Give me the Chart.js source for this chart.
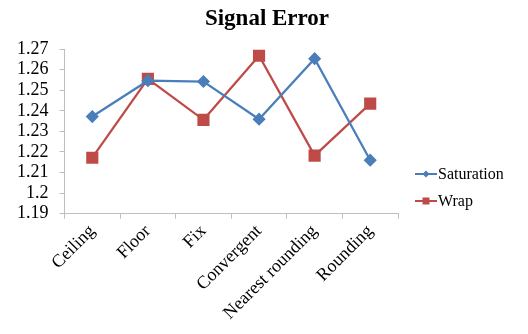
<!DOCTYPE html>
<html>
<head>
<meta charset="utf-8">
<script src="https://cdn.jsdelivr.net/npm/chart.js@4"></script>
<style>
  html, body { margin: 0; padding: 0; background: #fff; }
  #wrap { width: 528px; height: 334px; }
</style>
</head>
<body>
<div id="wrap"><canvas id="c" width="528" height="334"></canvas></div>
<script>
const categories = ["Ceiling", "Floor", "Fix", "Convergent", "Nearest rounding", "Rounding"];
const saturation = [1.2372, 1.2546, 1.2542, 1.2359, 1.2653, 1.2160];
const wrap = [1.2172, 1.2555, 1.2356, 1.2667, 1.2182, 1.2435];
const yTicks = [1.19, 1.2, 1.21, 1.22, 1.23, 1.24, 1.25, 1.26, 1.27];
const chartTitle = 'Signal Error';

const FONT = "'Liberation Serif', 'Times New Roman', serif";
const BLUE = "#4A7EBB";
const RED = "#BE4B48";

// Title centred over the whole canvas, legend drawn at the right beside the plot
const decorations = {
  id: 'decorations',
  afterDraw(chart) {
    const ctx = chart.ctx;
    ctx.save();
    ctx.fillStyle = '#000';
    ctx.font = "bold 23px " + FONT;
    ctx.textAlign = 'center';
    ctx.textBaseline = 'alphabetic';
    ctx.fillText(chartTitle, 267, 25);

    const x0 = 415;
    const rows = [174, 201];
    chart.data.datasets.forEach((ds, i) => {
      const y = rows[i];
      ctx.strokeStyle = ds.borderColor;
      ctx.lineWidth = 2;
      ctx.beginPath();
      ctx.moveTo(x0, y);
      ctx.lineTo(x0 + 22, y);
      ctx.stroke();
      ctx.fillStyle = ds.backgroundColor;
      if (ds.pointStyle === 'rect') {
        ctx.fillRect(x0 + 11 - 3.5, y - 3.5, 7, 7);
      } else {
        ctx.beginPath();
        ctx.moveTo(x0 + 11, y - 3.5);
        ctx.lineTo(x0 + 14.5, y);
        ctx.lineTo(x0 + 11, y + 3.5);
        ctx.lineTo(x0 + 7.5, y);
        ctx.closePath();
        ctx.fill();
      }
      ctx.fillStyle = '#000';
      ctx.font = "16px " + FONT;
      ctx.textBaseline = 'middle';
      ctx.textAlign = 'left';
      ctx.fillText(ds.label, x0 + 23, y + 1);
    });
    ctx.restore();
  }
};

new Chart(document.getElementById('c'), {
  type: 'line',
  data: {
    labels: categories,
    datasets: [
      {
        label: 'Saturation',
        data: saturation,
        borderColor: BLUE,
        backgroundColor: BLUE,
        borderWidth: 2.25,
        pointStyle: 'rectRot',
        pointRadius: 5,
        pointHoverRadius: 5,
        tension: 0
      },
      {
        label: 'Wrap',
        data: wrap,
        borderColor: RED,
        backgroundColor: RED,
        borderWidth: 2.25,
        pointStyle: 'rect',
        pointRadius: 7,
        pointHoverRadius: 7,
        tension: 0
      }
    ]
  },
  options: {
    responsive: false,
    animation: false,
    layout: { padding: { left: 6, right: 130, top: 49, bottom: 8 } },
    plugins: {
      legend: { display: false },
      tooltip: { enabled: false },
      title: { display: false }
    },
    scales: {
      x: {
        offset: true,
        grid: {
          display: true,
          drawOnChartArea: false,
          drawTicks: true,
          tickLength: 5,
          color: '#BFBFBF',
          offset: true
        },
        border: { color: '#BFBFBF', width: 1 },
        ticks: {
          color: '#000',
          font: { family: FONT, size: 18 },
          minRotation: 45,
          maxRotation: 45,
          autoSkip: false,
          padding: 2
        }
      },
      y: {
        min: 1.19,
        max: 1.27,
        afterBuildTicks(scale) {
          scale.ticks = yTicks.map(v => ({ value: v }));
        },
        grid: {
          display: true,
          drawOnChartArea: false,
          drawTicks: true,
          tickLength: 5,
          color: '#BFBFBF'
        },
        border: { color: '#BFBFBF', width: 1 },
        ticks: {
          color: '#000',
          font: { family: FONT, size: 18 },
          autoSkip: false,
          padding: 11,
          callback: v => String(parseFloat(Number(v).toFixed(2)))
        }
      }
    }
  },
  plugins: [decorations]
});
</script>
</body>
</html>
